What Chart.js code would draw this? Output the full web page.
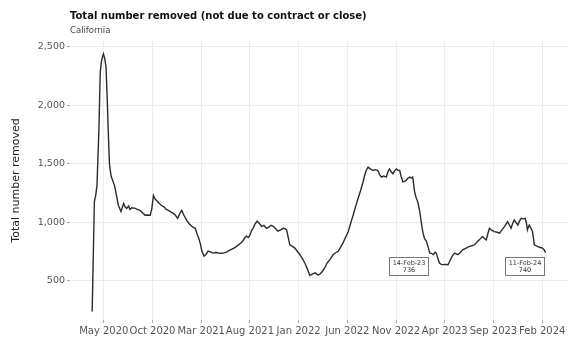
<!DOCTYPE html>
<html>
<head>
<meta charset="utf-8">
<script src="https://cdn.jsdelivr.net/npm/chart.js@4.4.1/dist/chart.umd.min.js"></script>
<style>
  html, body { margin: 0; padding: 0; background: #fff; }
  #wrap { position: relative; width: 576px; height: 339px; }
  #title { position: absolute; left: 70px; top: 10px; font: bold 10px "DejaVu Sans"; color: #111; white-space: nowrap; }
  #subtitle { position: absolute; left: 70px; top: 25px; font: 8.5px "DejaVu Sans"; color: #444; }
  canvas { position: absolute; left: 0; top: 0; }
</style>
</head>
<body>
<div id="wrap">
  <canvas id="chart" width="576" height="339"></canvas>
  <div id="title">Total number removed (not due to contract or close)</div>
  <div id="subtitle">California</div>
</div>
<script>
/* Daten – Kalifornien, gleitender Wert */
const dates = [
  '2020-03-26','2020-04-02','2020-04-06','2020-04-10','2020-04-16','2020-04-20','2020-04-24','2020-04-27','2020-04-30',
  '2020-05-04','2020-05-08','2020-05-12','2020-05-16','2020-05-19','2020-05-24','2020-05-29','2020-06-04','2020-06-10',
  '2020-06-16','2020-06-24','2020-07-02','2020-07-07','2020-07-12','2020-07-18','2020-07-22','2020-07-28','2020-08-08',
  '2020-08-15','2020-08-23','2020-09-01','2020-09-08','2020-09-16','2020-09-24','2020-09-29','2020-10-04','2020-10-09',
  '2020-10-14','2020-10-21','2020-10-30','2020-11-07','2020-11-13','2020-11-20','2020-11-27','2020-12-05','2020-12-12',
  '2020-12-19','2020-12-25','2021-01-01','2021-01-08','2021-01-17','2021-01-24','2021-02-02','2021-02-07','2021-02-12',
  '2021-02-17','2021-02-22','2021-02-27','2021-03-03','2021-03-10','2021-03-16','2021-03-23','2021-04-01','2021-04-08',
  '2021-04-17','2021-04-29','2021-05-09','2021-05-19','2021-05-30','2021-06-12','2021-06-25','2021-07-04','2021-07-11',
  '2021-07-16','2021-07-21','2021-07-27','2021-08-01','2021-08-06','2021-08-11','2021-08-17','2021-08-24','2021-08-31',
  '2021-09-07','2021-09-14','2021-09-22','2021-09-30','2021-10-06','2021-10-13','2021-10-21','2021-10-28','2021-11-06',
  '2021-11-13','2021-11-19','2021-11-24','2021-11-29','2021-12-04','2021-12-12','2021-12-20','2021-12-27','2022-01-05',
  '2022-01-13','2022-01-21','2022-01-29','2022-02-05','2022-02-13','2022-02-21','2022-02-28','2022-03-06','2022-03-14',
  '2022-03-22','2022-03-29','2022-04-07','2022-04-12','2022-04-17','2022-04-25','2022-05-03','2022-05-11','2022-05-18',
  '2022-05-26','2022-06-04','2022-06-11','2022-06-19','2022-06-26','2022-07-04','2022-07-12','2022-07-20','2022-07-25',
  '2022-07-30','2022-08-05','2022-08-13','2022-08-21','2022-08-28','2022-09-05','2022-09-10','2022-09-16','2022-09-23',
  '2022-10-01','2022-10-06','2022-10-11','2022-10-17','2022-10-22','2022-10-27','2022-11-02','2022-11-07','2022-11-12',
  '2022-11-17','2022-11-22','2022-11-27','2022-12-02','2022-12-07','2022-12-13','2022-12-18','2022-12-23','2022-12-29',
  '2023-01-03','2023-01-08','2023-01-14','2023-01-19','2023-01-24','2023-01-29','2023-02-04','2023-02-09','2023-02-14',
  '2023-02-19','2023-02-24','2023-03-01','2023-03-05','2023-03-10','2023-03-15','2023-03-21','2023-03-26','2023-04-03',
  '2023-04-11','2023-04-16','2023-04-21','2023-04-26','2023-05-01','2023-05-07','2023-05-12','2023-05-20','2023-05-27',
  '2023-06-07','2023-06-17','2023-06-25','2023-07-02','2023-07-10','2023-07-18','2023-07-23','2023-07-28','2023-08-04',
  '2023-08-09','2023-08-14','2023-08-19','2023-08-27','2023-09-04','2023-09-12','2023-09-20','2023-09-27','2023-10-05',
  '2023-10-10','2023-10-15','2023-10-21','2023-10-26','2023-10-31','2023-11-05','2023-11-10','2023-11-16','2023-11-21',
  '2023-11-26','2023-12-03','2023-12-09','2023-12-13','2023-12-16','2023-12-19','2023-12-22','2023-12-27','2024-01-01',
  '2024-01-04','2024-01-07','2024-01-12','2024-01-17','2024-01-26','2024-02-02','2024-02-08','2024-02-11'
];
const removed = [
  237, 1178, 1230, 1314, 1800, 2280, 2380, 2415, 2440,
  2400, 2330, 2050, 1712, 1500, 1398, 1360, 1314, 1230,
  1144, 1093, 1161, 1130, 1119, 1140, 1110, 1125, 1119,
  1110, 1102, 1080, 1060, 1062, 1060, 1120, 1229, 1200,
  1186, 1165, 1144, 1130, 1110, 1102, 1090, 1076, 1060,
  1034, 1070, 1102, 1060, 1017, 990, 966, 955, 949,
  900, 864, 810, 754, 712, 725, 754, 745, 737,
  742, 735, 737, 745, 763, 780, 805, 825, 847,
  870, 881, 870, 890, 930, 949, 985, 1011, 990,
  966, 975, 949, 960, 975, 966, 945, 924, 935,
  949, 945, 935, 870, 808, 795, 780, 755, 723,
  690, 650, 600, 545, 560, 568, 550, 554, 580,
  610, 650, 681, 700, 723, 740, 752, 790, 822,
  870, 921, 990, 1062, 1130, 1203, 1270, 1345, 1400,
  1443, 1472, 1455, 1443, 1450, 1443, 1410, 1387, 1395,
  1387, 1430, 1457, 1430, 1415, 1440, 1457, 1445, 1443,
  1390, 1345, 1350, 1358, 1375, 1387, 1380, 1387, 1260,
  1210, 1175, 1100, 1006, 920, 864, 840, 790, 736,
  735, 723, 745, 737, 690, 652, 640, 638, 640,
  638, 665, 695, 720, 737, 730, 723, 745, 765,
  780, 794, 800, 808, 830, 850, 865, 879, 860,
  850, 900, 949, 930, 921, 915, 907, 935, 963,
  985, 1006, 975, 949, 990, 1020, 1000, 977, 1010,
  1034, 1030, 1034, 990, 935, 960, 977, 950, 921,
  870, 808, 800, 794, 785, 780, 760, 740
];

const tickDates = ['2020-05-01','2020-10-01','2021-03-01','2021-08-01','2022-01-01','2022-06-01','2022-11-01','2023-04-01','2023-09-01','2024-02-01'];
const tickLabels = ['May 2020','Oct 2020','Mar 2021','Aug 2021','Jan 2022','Jun 2022','Nov 2022','Apr 2023','Sep 2023','Feb 2024'];
const yTicks = [500, 1000, 1500, 2000, 2500];

/* markierte Punkte */
const calloutDates = ['2023-02-14', '2024-02-11'];
const calloutLabels = ['14-Feb-23', '11-Feb-24'];

const FONT = 'DejaVu Sans';

// Datum -> Monate seit Jan 2020 (gebrochen)
function monthIndex(s) {
  const [y, m, d] = s.split('-').map(Number);
  const dim = new Date(y, m, 0).getDate();
  return (y - 2020) * 12 + (m - 1) + (d - 1) / dim;
}

const calloutPlugin = {
  id: 'callouts',
  afterDatasetsDraw(chart) {
    const { ctx, scales: { x, y } } = chart;
    ctx.save();
    calloutDates.forEach((d, i) => {
      const idx = dates.indexOf(d);
      if (idx < 0) return;
      const px = x.getPixelForValue(monthIndex(d));
      const py = y.getPixelForValue(removed[idx]);
      const w = 39, h = 18;
      const bx = Math.round(px - 2 - w) + 0.5, by = Math.round(py + 4) + 0.5;
      ctx.fillStyle = '#fff';
      ctx.strokeStyle = '#777';
      ctx.lineWidth = 1;
      ctx.fillRect(bx, by, w, h);
      ctx.strokeRect(bx, by, w, h);
      ctx.fillStyle = '#333';
      ctx.font = `6.5px "${FONT}"`;
      ctx.textAlign = 'center';
      ctx.textBaseline = 'middle';
      ctx.fillText(calloutLabels[i], bx + w / 2, by + 5.5);
      ctx.fillText(String(removed[idx]), bx + w / 2, by + 13);
    });
    ctx.restore();
  }
};

new Chart(document.getElementById('chart'), {
  type: 'line',
  data: {
    datasets: [{
      label: 'Total number removed',
      data: dates.map((d, i) => ({ x: monthIndex(d), y: removed[i] })),
      borderColor: '#2b2b2b',
      borderWidth: 1.4,
      pointRadius: 0,
      tension: 0,
      fill: false,
    }]
  },
  options: {
    responsive: false,
    animation: false,
    layout: { padding: { top: 41, right: 8, left: 0, bottom: 0 } },
    plugins: { legend: { display: false }, tooltip: { enabled: false } },
    scales: {
      x: {
        type: 'linear',
        min: 0.53, max: 51.65,
        afterBuildTicks: s => { s.ticks = tickDates.map(d => ({ value: monthIndex(d) })); },
        ticks: {
          autoSkip: false, maxRotation: 0, padding: 2,
          callback: (v, i) => tickLabels[i],
          color: '#555', font: { family: FONT, size: 10 },
        },
        grid: { color: '#ececec', tickLength: 3, tickColor: '#aaa' },
        border: { display: false },
      },
      y: {
        min: 165, max: 2550,
        afterBuildTicks: s => { s.ticks = yTicks.map(v => ({ value: v })); },
        afterFit: s => { s.width = 70; },
        ticks: {
          padding: 2,
          callback: v => v.toLocaleString('en-US'),
          color: '#555', font: { family: FONT, size: 9.5 },
        },
        grid: { color: '#ececec', tickLength: 3, tickColor: '#aaa' },
        border: { display: false },
        title: {
          display: true, text: 'Total number removed',
          color: '#222', font: { family: FONT, size: 11 },
          padding: { top: 10, bottom: 0 },
        },
      },
    },
  },
  plugins: [calloutPlugin],
});
</script>
</body>
</html>
